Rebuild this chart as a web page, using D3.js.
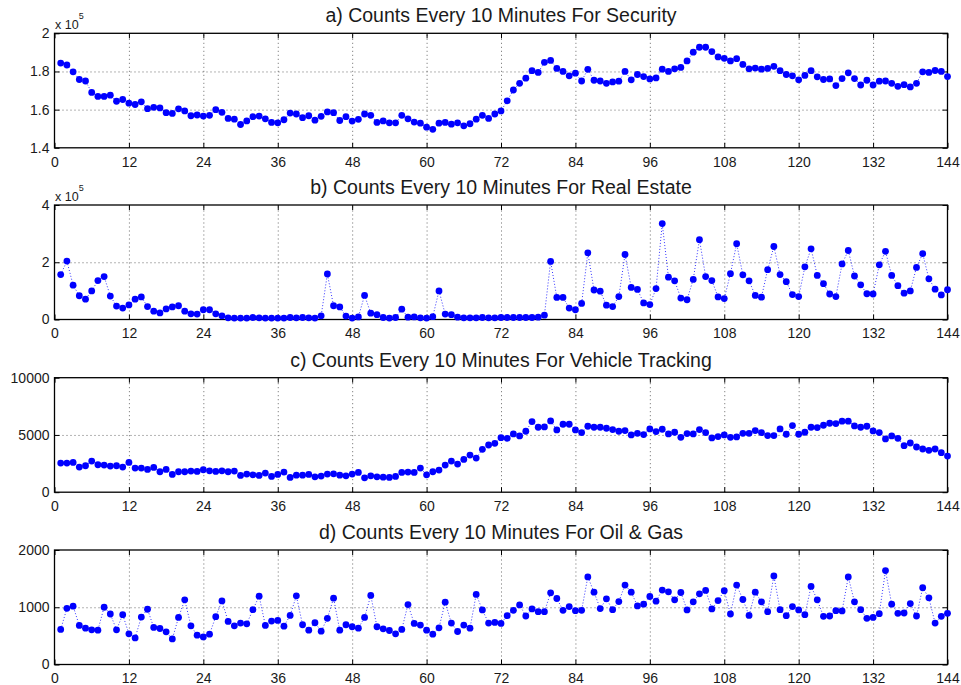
<!DOCTYPE html>
<html>
<head>
<meta charset="utf-8">
<script src="https://cdn.jsdelivr.net/npm/d3@7"></script>
<style>
  body { margin: 0; background: #fff; }
  text { font-family: "Liberation Sans", Arial, sans-serif; fill: #1a1a1a; }
</style>
</head>
<body>
<div id="chart"></div>
<script>
// ---- data ----
var xTicks = [0, 12, 24, 36, 48, 60, 72, 84, 96, 108, 120, 132, 144];

var titles = [
  "a) Counts Every 10 Minutes For Security",
  "b) Counts Every 10 Minutes For Real Estate",
  "c) Counts Every 10 Minutes For Vehicle Tracking",
  "d) Counts Every 10 Minutes For Oil & Gas"
];

// security, in units of 10^5
var security = [
  1.844, 1.834, 1.798, 1.758, 1.750, 1.690, 1.669, 1.669, 1.676, 1.644, 1.653, 1.634,
  1.627, 1.641, 1.605, 1.612, 1.609, 1.584, 1.580, 1.604, 1.593, 1.568, 1.572, 1.566,
  1.570, 1.600, 1.586, 1.554, 1.550, 1.522, 1.541, 1.563, 1.566, 1.552, 1.533, 1.531,
  1.547, 1.582, 1.577, 1.558, 1.568, 1.545, 1.565, 1.588, 1.584, 1.543, 1.563, 1.540,
  1.549, 1.577, 1.570, 1.533, 1.541, 1.531, 1.531, 1.570, 1.552, 1.535, 1.529, 1.508,
  1.497, 1.529, 1.533, 1.524, 1.531, 1.515, 1.526, 1.550, 1.570, 1.554, 1.577, 1.593,
  1.646, 1.703, 1.738, 1.765, 1.804, 1.795, 1.848, 1.858, 1.816, 1.800, 1.777, 1.791,
  1.750, 1.811, 1.754, 1.750, 1.738, 1.745, 1.749, 1.800, 1.756, 1.784, 1.773, 1.761,
  1.766, 1.812, 1.800, 1.814, 1.821, 1.855, 1.901, 1.927, 1.927, 1.904, 1.876, 1.869,
  1.855, 1.867, 1.837, 1.814, 1.818, 1.812, 1.816, 1.827, 1.804, 1.784, 1.777, 1.756,
  1.779, 1.804, 1.772, 1.758, 1.761, 1.726, 1.763, 1.793, 1.763, 1.729, 1.754, 1.729,
  1.749, 1.750, 1.738, 1.722, 1.731, 1.719, 1.738, 1.798, 1.795, 1.805, 1.800, 1.773
];

// real estate, in units of 10^5
var realEstate = [
  1.57, 2.04, 1.20, 0.83, 0.71, 1.00, 1.36, 1.50, 0.82, 0.47, 0.40, 0.51,
  0.71, 0.79, 0.45, 0.29, 0.23, 0.37, 0.44, 0.48, 0.29, 0.20, 0.19, 0.34,
  0.34, 0.20, 0.13, 0.06, 0.05, 0.05, 0.05, 0.07, 0.06, 0.05, 0.05, 0.05,
  0.05, 0.07, 0.06, 0.07, 0.06, 0.05, 0.13, 1.59, 0.48, 0.44, 0.12, 0.05,
  0.09, 0.84, 0.22, 0.17, 0.07, 0.05, 0.07, 0.36, 0.08, 0.09, 0.06, 0.05,
  0.10, 1.00, 0.19, 0.17, 0.08, 0.06, 0.06, 0.06, 0.07, 0.06, 0.06, 0.07,
  0.07, 0.07, 0.07, 0.07, 0.07, 0.08, 0.15, 2.03, 0.77, 0.77, 0.40, 0.34,
  0.56, 2.33, 1.03, 0.99, 0.50, 0.45, 0.80, 2.27, 1.12, 1.05, 0.58, 0.52,
  1.08, 3.35, 1.48, 1.35, 0.75, 0.69, 1.40, 2.79, 1.50, 1.36, 0.79, 0.73,
  1.60, 2.65, 1.56, 1.35, 0.84, 0.78, 1.74, 2.55, 1.57, 1.32, 0.87, 0.80,
  1.84, 2.47, 1.54, 1.25, 0.89, 0.80, 1.94, 2.41, 1.52, 1.21, 0.90, 0.89,
  1.91, 2.38, 1.54, 1.18, 0.92, 1.00, 1.82, 2.30, 1.42, 1.06, 0.86, 1.04
];

var vehicle = [
  2544, 2544, 2602, 2193, 2310, 2719, 2398, 2368, 2281, 2310, 2193, 2602,
  2105, 2105, 1988, 2164, 1784, 1988, 1550, 1784, 1784, 1842, 1813, 1959,
  1871, 1813, 1871, 1784, 1842, 1462, 1579, 1520, 1462, 1667, 1374, 1550,
  1754, 1287, 1491, 1491, 1550, 1345, 1404, 1579, 1608, 1491, 1433, 1579,
  1725, 1257, 1433, 1345, 1316, 1287, 1374, 1725, 1754, 1725, 2105, 1520,
  1784, 1930, 2368, 2719, 2456, 2866, 3246, 2983, 3743, 4123, 4269, 4766,
  4708, 5088, 4912, 5322, 6170, 5673, 5702, 6228, 5439, 5936, 5936, 5439,
  5205, 5760, 5673, 5673, 5585, 5468, 5322, 5380, 5000, 5146, 5029, 5527,
  5292, 5497, 5088, 5234, 4795, 5117, 5088, 5468, 5205, 4737, 4854, 5000,
  4795, 4825, 5146, 5146, 5380, 5205, 4942, 4942, 5527, 5059, 5819, 5059,
  5234, 5673, 5643, 5848, 6023, 5994, 6199, 6199, 5790, 5673, 5760, 5351,
  5205, 4649, 4912, 4708, 4064, 4298, 3947, 3772, 3655, 3772, 3450, 3158
];

var oilGas = [
  612, 982, 1018, 682, 635, 606, 600, 1000, 882, 606, 870, 535,
  465, 829, 965, 647, 629, 570, 447, 823, 1129, 676, 512, 482,
  529, 835, 1111, 753, 676, 723, 711, 958, 1194, 682, 759, 770,
  670, 858, 1200, 694, 600, 729, 582, 806, 1158, 600, 694, 659,
  635, 823, 1206, 659, 623, 594, 535, 612, 1047, 717, 688, 600,
  529, 641, 1088, 723, 576, 688, 635, 1224, 953, 723, 735, 717,
  853, 947, 1041, 847, 970, 923, 923, 1252, 1153, 947, 1012, 941,
  947, 1529, 1264, 976, 1147, 958, 1100, 1388, 1264, 1023, 1053, 1188,
  1106, 1300, 1270, 1129, 1258, 953, 1094, 1235, 1294, 970, 1117, 1288,
  882, 1388, 1135, 858, 1264, 1094, 923, 1546, 958, 853, 1012, 953,
  870, 1364, 1129, 841, 847, 941, 935, 1529, 1094, 958, 806, 823,
  888, 1641, 1053, 894, 900, 1065, 847, 1341, 1164, 723, 841, 894
];

var yTicksA = [1.4, 1.6, 1.8, 2];
var yTicksB = [0, 2, 4];
var yTicksC = [0, 5000, 10000];
var yTicksD = [0, 1000, 2000];

// ---- layout ----
var width = 961, height = 685;
var left = 54.5, right = 947.5;
var panelH = 114.5;
var tops = [33.3, 205, 377.7, 550];

var svg = d3.select("#chart").append("svg")
  .attr("width", width)
  .attr("height", height);

var x = d3.scaleLinear().domain([0, 144]).range([0, right - left]);

var panels = [
  { title: titles[0], values: security, ticks: yTicksA, domain: [1.4, 2], exp: true },
  { title: titles[1], values: realEstate, ticks: yTicksB, domain: [0, 4], exp: true },
  { title: titles[2], values: vehicle, ticks: yTicksC, domain: [0, 10000], exp: false },
  { title: titles[3], values: oilGas, ticks: yTicksD, domain: [0, 2000], exp: false }
];

panels.forEach(function (p, k) {
  var w = right - left;
  var g = svg.append("g")
    .attr("transform", "translate(" + left + "," + tops[k] + ")");

  var y = d3.scaleLinear().domain(p.domain).range([panelH, 0]);

  // dotted grid
  g.append("g")
    .attr("class", "grid")
    .attr("transform", "translate(0," + panelH + ")")
    .call(d3.axisBottom(x).tickValues(xTicks.slice(1, -1)).tickSize(-panelH).tickFormat(""))
    .call(function (s) { s.select(".domain").remove(); });
  g.append("g")
    .attr("class", "grid")
    .call(d3.axisLeft(y).tickValues(p.ticks.slice(1, -1)).tickSize(-w).tickFormat(""))
    .call(function (s) { s.select(".domain").remove(); });
  g.selectAll(".grid line")
    .style("stroke", "#444")
    .style("stroke-width", 0.8)
    .style("stroke-dasharray", "1,3");

  // axes with inward ticks (matlab style)
  g.append("g")
    .attr("class", "axis")
    .attr("transform", "translate(0," + panelH + ")")
    .call(d3.axisBottom(x).tickValues(xTicks).tickSizeInner(-5).tickSizeOuter(0).tickPadding(9));
  g.append("g")
    .attr("class", "axis")
    .call(d3.axisLeft(y).tickValues(p.ticks).tickSizeInner(-5).tickSizeOuter(0).tickPadding(5)
      .tickFormat(d3.format("~g")));
  g.append("g")
    .attr("class", "axis")
    .call(d3.axisTop(x).tickValues(xTicks).tickSizeInner(-5).tickSizeOuter(0).tickFormat(""));
  g.append("g")
    .attr("class", "axis")
    .attr("transform", "translate(" + w + ",0)")
    .call(d3.axisRight(y).tickValues(p.ticks).tickSizeInner(-5).tickSizeOuter(0).tickFormat(""));

  g.selectAll(".axis .domain").remove();
  g.selectAll(".axis line").style("stroke", "#000");
  g.selectAll(".axis text")
    .attr("font-size", "14px")
    .attr("font-family", "Liberation Sans, Arial, sans-serif")
    .style("fill", "#1a1a1a");

  // box
  g.append("rect")
    .attr("width", w)
    .attr("height", panelH)
    .attr("fill", "none")
    .attr("stroke", "#000")
    .attr("stroke-width", 1.3);

  // title
  g.append("text")
    .attr("x", w / 2)
    .attr("y", -11)
    .attr("text-anchor", "middle")
    .attr("font-size", "19.5px")
    .text(p.title);

  // x 10^5 multiplier
  if (p.exp) {
    var t = g.append("text")
      .attr("x", 0.5)
      .attr("y", -4.5)
      .attr("font-size", "12.5px");
    t.append("tspan").text("x 10");
    t.append("tspan").attr("dy", -10).attr("font-size", "9px").text("5");
  }

  var pts = p.values.map(function (v, i) { return [i + 1, v]; });

  // dotted connecting line
  g.append("path")
    .datum(pts)
    .attr("fill", "none")
    .attr("stroke", "#0000ff")
    .attr("stroke-width", 0.8)
    .attr("stroke-dasharray", "1,2")
    .attr("d", d3.line()
      .x(function (d) { return x(d[0]); })
      .y(function (d) { return y(d[1]); }));

  g.selectAll(".dot")
    .data(pts)
    .enter().append("circle")
    .attr("class", "dot")
    .attr("cx", function (d) { return x(d[0]); })
    .attr("cy", function (d) { return y(d[1]); })
    .attr("r", 3.4)
    .attr("fill", "#0000ff");
});
</script>
</body>
</html>
